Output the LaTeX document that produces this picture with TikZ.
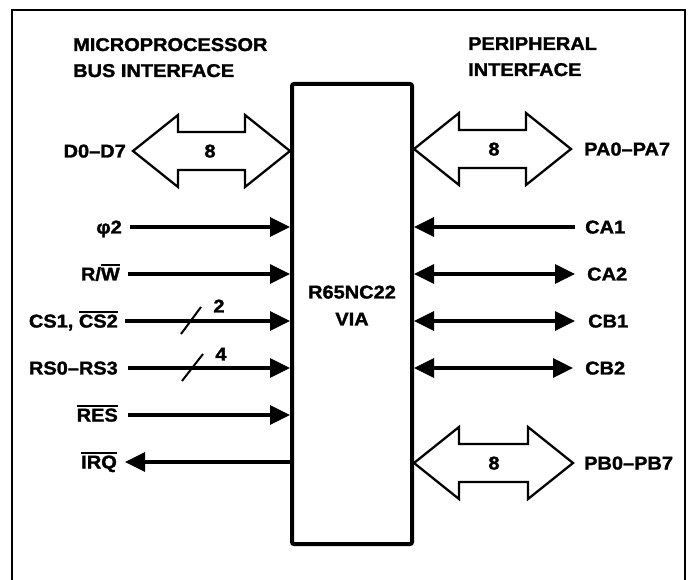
\documentclass[tikz,border=0pt]{standalone}
\usepackage{fontspec}
\newfontfamily\labfont[FakeStretch=1.08,FakeBold=1.6]{Liberation Sans}
\usetikzlibrary{arrows.meta,calc}
\newcommand\ovl[1]{\leavevmode\vbox{\hrule height 1.8pt\kern 1.6pt\hbox{#1}}}
\newcommand\busarrow[3]{%
  \draw[bus] (#1,#3) -- (#1+45,#3-36) -- (#1+45,#3-19) -- (#2-45,#3-19) -- (#2-45,#3-36)
    -- (#2,#3) -- (#2-45,#3+36) -- (#2-45,#3+19) -- (#1+45,#3+19) -- (#1+45,#3+36) -- cycle;}
\begin{document}
\begin{tikzpicture}[x=1pt,y=-1pt,
  lbl/.style={font={\labfont\bfseries\fontsize{18.5}{22}\selectfont},inner sep=0pt,text height=13pt,text depth=0pt},
  sig/.style={line width=3.2pt},
  ah/.tip={Triangle[length=20pt,width=19pt]},
  bus/.style={draw,line width=2.3pt,line join=miter},
  frame/.style={line width=1.5pt}]
\useasboundingbox (0,0) rectangle (689,580);
\draw[frame] (12,580) -- (12,10) -- (685,10) -- (685,580);

% headings
\node[lbl,anchor=base west] (h1a) at (73,51) {MICROPROCESSOR};
\node[lbl,anchor=base west] (h1b) at (73,77) {BUS INTERFACE};
\node[lbl,anchor=base west] (h2a) at (468,50) {PERIPHERAL};
\node[lbl,anchor=base west] (h2b) at (468,76) {INTERFACE};

% central block
\node[draw,line width=4pt,rounded corners=2pt,minimum width=120pt,minimum height=460pt] (via) at (352,314) {};
\node[lbl] (vt1) at (352,292) {R65NC22};
\node[lbl] (vt2) at (352,319) {VIA};

% data buses
\busarrow{133}{290}{151}
\node[lbl] (d8) at (210,151) {8};
\node[lbl,anchor=east] (dlab) at (126,151) {D0–D7};
\busarrow{414}{571}{149}
\node[lbl] (pa8) at (494,149) {8};
\node[lbl,anchor=west] (palab) at (584,149) {PA0–PA7};
\busarrow{414}{573}{463}
\node[lbl] (pb8) at (494,463) {8};
\node[lbl,anchor=west] (pblab) at (584,463) {PB0–PB7};

% left signals
\node[lbl,anchor=east] (phi) at (122,227) {φ2};
\node[lbl,anchor=east] (rw) at (120,274) {R/\ovl{W}};
\node[lbl,anchor=east] (cs) at (118,321) {CS1, \ovl{CS2}};
\node[lbl,anchor=east] (rs) at (118,368) {RS0–RS3};
\node[lbl,anchor=east] (res) at (118,415) {\ovl{RES}};
\node[lbl,anchor=east] (irq) at (117,462) {\ovl{IRQ}};

\draw[sig,-ah] ([xshift=8pt]phi.east) -- (via.west |- phi.east);
\draw[sig,-ah] ([xshift=8pt]rw.east) -- (via.west |- rw.east);
\draw[sig,-ah] ([xshift=7pt]cs.east) -- (via.west |- cs.east);
\draw[sig,-ah] ([xshift=10pt]rs.east) -- (via.west |- rs.east);
\draw[sig,-ah] ([xshift=10pt]res.east) -- (via.west |- res.east);
\draw[sig,ah-] ([xshift=8pt]irq.east) -- (via.west |- irq.east);

% bus width slashes
\draw[line width=2pt] (181,334) -- (201,307);
\node[lbl] (n2) at (219,306) {2};
\draw[line width=2pt] (182,381) -- (203,354);
\node[lbl] (n4) at (221,354) {4};

% right signals
\node[lbl,anchor=west] (ca1) at (585,227) {CA1};
\node[lbl,anchor=west] (ca2) at (587,274) {CA2};
\node[lbl,anchor=west] (cb1) at (588,321) {CB1};
\node[lbl,anchor=west] (cb2) at (585,368) {CB2};

\draw[sig,ah-] (via.east |- ca1.west) -- ([xshift=-10pt]ca1.west);
\draw[sig,ah-ah] (via.east |- ca2.west) -- ([xshift=-12pt]ca2.west);
\draw[sig,ah-ah] (via.east |- cb1.west) -- ([xshift=-13pt]cb1.west);
\draw[sig,ah-ah] (via.east |- cb2.west) -- ([xshift=-12pt]cb2.west);
\end{tikzpicture}
\end{document}
